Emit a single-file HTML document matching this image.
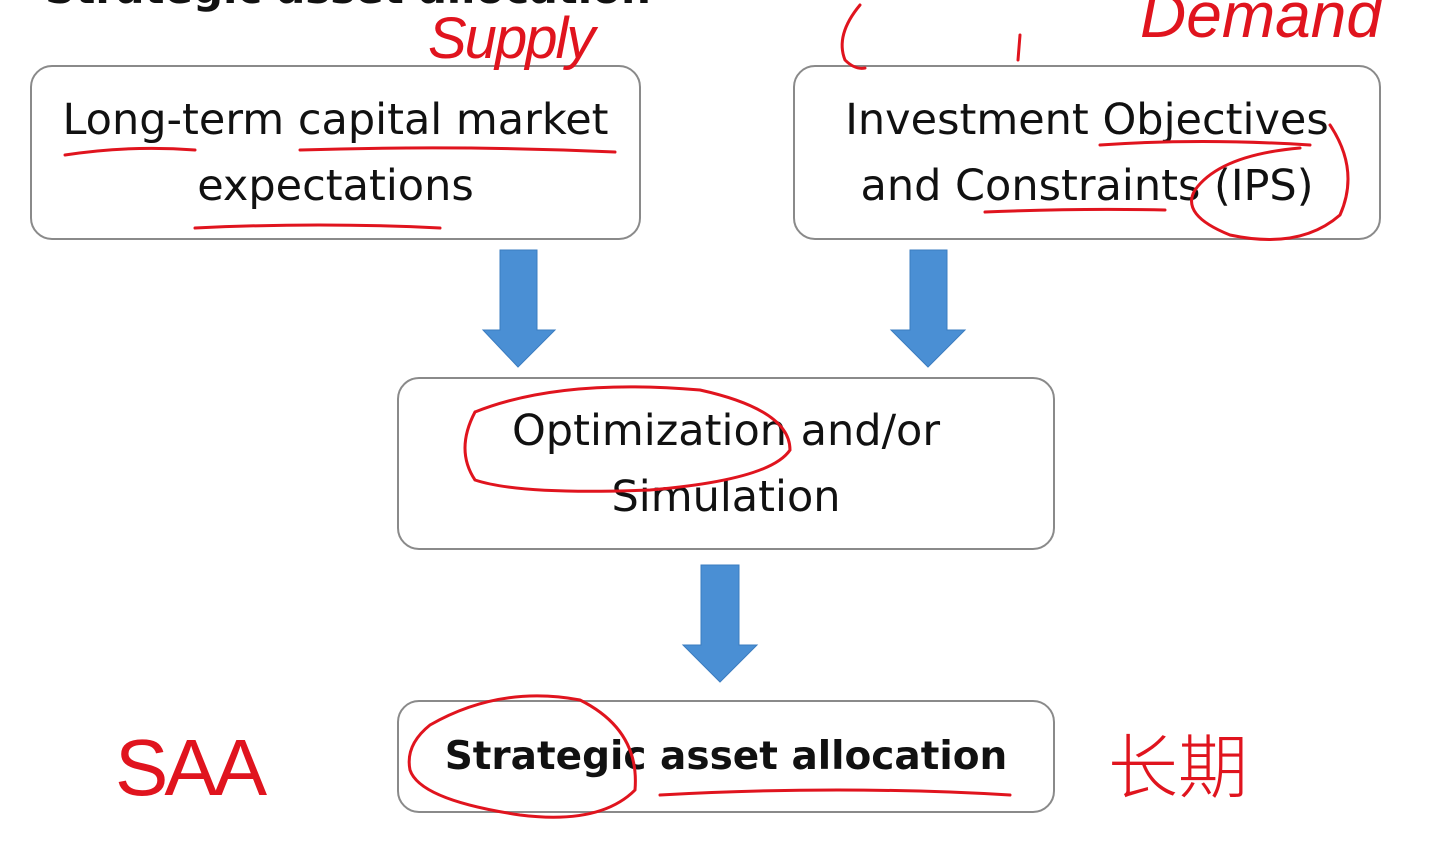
<!DOCTYPE html>
<html><head><meta charset="utf-8"><style>
html,body{margin:0;padding:0;background:#fff;width:1449px;height:859px;overflow:hidden;position:relative;font-family:"DejaVu Sans","Noto Sans CJK SC",sans-serif}
.box{position:absolute;border:2px solid #8a8a8a;border-radius:22px;background:#fff;box-sizing:border-box;display:flex;flex-direction:column;justify-content:center;align-items:center;text-align:center;font-size:43px;color:#111;line-height:66px;white-space:nowrap}
.hw{position:absolute;color:#e0141e;font-family:"Liberation Sans","Noto Sans CJK SC",sans-serif;font-style:italic;font-weight:normal}
</style></head><body>
<div style="position:absolute;left:45px;top:-36px;font-size:42px;font-weight:bold;color:#111;font-family:'DejaVu Sans',sans-serif">Strategic asset allocation</div>
<div class="box" style="left:30px;top:65px;width:611px;height:175px"><div>Long-term capital market</div><div>expectations</div></div>
<div class="box" style="left:793px;top:65px;width:588px;height:175px"><div>Investment Objectives</div><div>and Constraints (IPS)</div></div>
<div class="box" style="left:397px;top:377px;width:658px;height:173px"><div>Optimization and/or</div><div>Simulation</div></div>
<div class="box" style="left:397px;top:700px;width:658px;height:113px;font-weight:bold;font-size:39px"><div>Strategic asset allocation</div></div>
<svg width="1449" height="859" style="position:absolute;left:0;top:0">
<g fill="#4a8fd4" stroke="#3b7cc0" stroke-width="1">
<polygon points="500,250 537,250 537,330 555,330 518,367 483,330 500,330"/>
<polygon points="910,250 947,250 947,330 965,330 928,367 891,330 910,330"/>
<polygon points="701,565 739,565 739,645 757,645 720,682 683,645 701,645"/>
</g>
<g fill="none" stroke="#e0141e" stroke-width="3" stroke-linecap="round">
<path d="M65,155 Q130,145 195,150"/>
<path d="M300,150 Q460,145 615,152"/>
<path d="M195,228 Q320,222 440,228"/>
<path d="M1100,145 Q1200,138 1310,145"/>
<path d="M985,212 Q1080,208 1165,210"/>
<path d="M1330,125 Q1360,170 1340,215 Q1300,250 1230,235 Q1180,215 1195,190 Q1220,155 1300,148"/>
<path d="M475,412 Q560,378 700,390 Q790,410 790,450 Q770,480 650,490 Q520,495 475,480 Q455,450 475,412"/>
<path d="M430,725 Q500,685 580,700 Q640,730 635,790 Q600,825 520,815 Q420,800 410,770 Q405,745 430,725"/>
<path d="M660,795 Q840,785 1010,795"/>
<path d="M860,5 Q835,35 845,60 Q855,70 865,68"/>
<path d="M1020,35 L1018,60"/>
</g>
</svg>
<div class="hw" style="left:428px;top:5px;font-size:58px;letter-spacing:-2px">Supply</div>
<div class="hw" style="left:1140px;top:-22px;font-size:64px">Demand</div>
<div class="hw" style="left:115px;top:722px;font-size:80px;font-style:normal;font-weight:300;letter-spacing:-4px">SAA</div>
<div class="hw" style="left:1108px;top:712px;font-size:70px;font-style:normal;font-family:'Noto Sans CJK SC',sans-serif;font-weight:300">长期</div>
</body></html>
